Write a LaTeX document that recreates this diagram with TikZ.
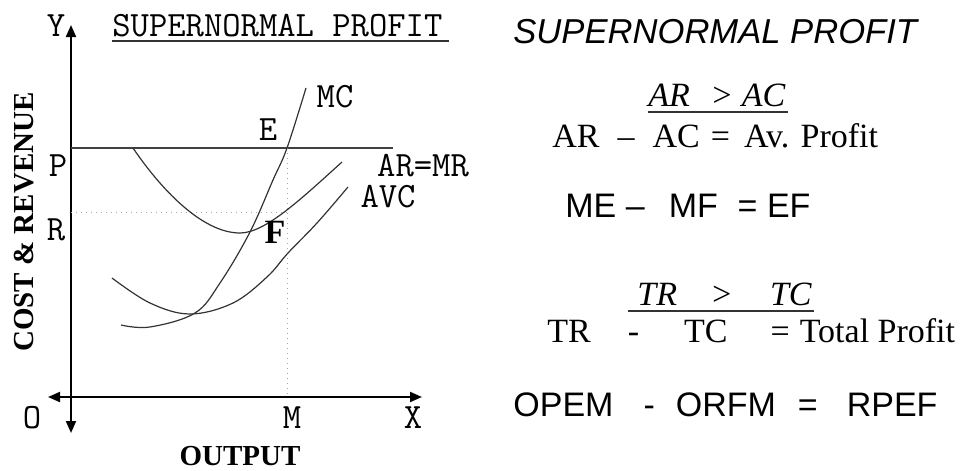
\documentclass[tikz,border=0pt]{standalone}
\usepackage{fontspec}
\setmainfont{Liberation Serif}
\setsansfont{Liberation Sans}
\usetikzlibrary{arrows.meta}

\begin{document}
\begin{tikzpicture}[x=0.5pt,y=-0.5pt, >={Triangle[length=6pt,width=5pt]},
  lbl/.style={inner sep=0pt,anchor=base,font=\ttfamily\fontsize{17.8}{20}\selectfont},
  blbl/.style={inner sep=0pt,anchor=base,font=\bfseries\fontsize{14.5}{16}\selectfont},
  axis/.style={line width=1pt,<->},
  curve/.style={line width=0.6pt,black!80},
  guide/.style={dotted,gray!70,line width=0.5pt},
  uline/.style={line width=0.9pt,black!80},
  eqn/.style={inner sep=0pt,anchor=base west,font=\fontsize{17}{20}\selectfont},
  sans/.style={inner sep=0pt,anchor=base west,font=\sffamily\fontsize{17}{20}\selectfont}]
\useasboundingbox (0,0) rectangle (969,471);

% axes
\coordinate (ytop) at (71,25);
\coordinate (ybot) at (71,433);
\coordinate (xleft) at (48,397);
\coordinate (xright) at (422,397);
\draw[axis] (ybot) -- (ytop);
\draw[axis] (xleft) -- (xright);

% price line and guides
\coordinate (pl) at (71,148);
\coordinate (pr) at (393,148);
\coordinate (E) at (287,148);
\coordinate (F) at (287,212);
\coordinate (M) at (287,397);
\coordinate (rl) at (71,212);
\draw[line width=0.9pt,black!75] (pl) -- (pr);
\draw[guide] (E) -- (M);
\draw[guide] (rl) -- (F);

% cost curves
\draw[curve] (133,148) .. controls (165,195) and (205,233) .. (240,233)
  .. controls (265,233) and (300,200) .. (342,162);
\draw[curve] plot[smooth,tension=0.6] coordinates {(121,325) (150,327) (195,313) (220,283) (250,232) (273,180) (287,148) (306,88)};
\draw[curve] plot[smooth,tension=0.6] coordinates {(112,278) (150,303) (190,314) (233,303) (267,277) (288,253) (317,223) (348,187)};

% labels of the diagram
\node[lbl] (ylab) at (56,36) {Y};
\node[lbl,anchor=base west] (ttl) at (112,36) {SUPERNORMAL PROFIT};
\draw[uline] ([yshift=-2.5pt]ttl.base west) -- ([xshift=3pt,yshift=-2.5pt]ttl.base east);
\node[lbl] (mc) at (335,107) {MC};
\node[lbl] (elab) at (268,140) {E};
\node[lbl] (plab) at (58,176) {P};
\node[lbl] (armr) at (423,176) {AR=MR};
\node[lbl] (avc) at (388,207) {AVC};
\node[lbl] (rlab) at (56,240) {R};
\node[blbl,font=\bfseries\fontsize{17}{18}\selectfont] (flab) at (275,243) {F};
\node[lbl] (olab) at (32,428) {O};
\node[lbl] (mlab) at (292,428) {M};
\node[lbl] (xlab) at (413,428) {X};
\node[blbl] (out) at (240,465) {OUTPUT};
\node[blbl,rotate=90] (cost) at (33,222) {COST \& REVENUE};

% right hand side
\node[inner sep=0pt,anchor=base west,font=\sffamily\itshape\fontsize{17.3}{20}\selectfont] (rttl) at (513,43) {SUPERNORMAL PROFIT};
\node[eqn] (avgin) at (648,106) {\itshape AR\hspace{10.25pt}>\hspace{4.25pt}AC};
\draw[uline] ([yshift=-3pt]avgin.base west) -- ([xshift=1pt,yshift=-3pt]avgin.base east);
\node[eqn] (avg) at (552,147) {AR\hspace{9pt}–\hspace{9pt}AC\hspace{5.5pt}=\hspace{7pt}Av. Profit};
\node[sans] (me) at (565,217) {ME – \hspace{7.3pt}MF \hspace{5.2pt}= EF};
\node[eqn] (totin) at (637,305) {\itshape TR\hspace{16.5pt}>\hspace{18.5pt}TC};
\draw[uline] ([xshift=-4.5pt,yshift=-3pt]totin.base west) -- ([xshift=1pt,yshift=-3pt]totin.base east);
\node[eqn] (tot) at (547,342) {TR\hspace{18.5pt}-\hspace{22.5pt}TC\hspace{21.5pt}=\hspace{5pt}Total Profit};
\node[sans] (opem) at (513,416) {OPEM\hspace{15pt}-\hspace{10.5pt}ORFM\hspace{11pt}=\hspace{14.5pt}RPEF};
\end{tikzpicture}
\end{document}
